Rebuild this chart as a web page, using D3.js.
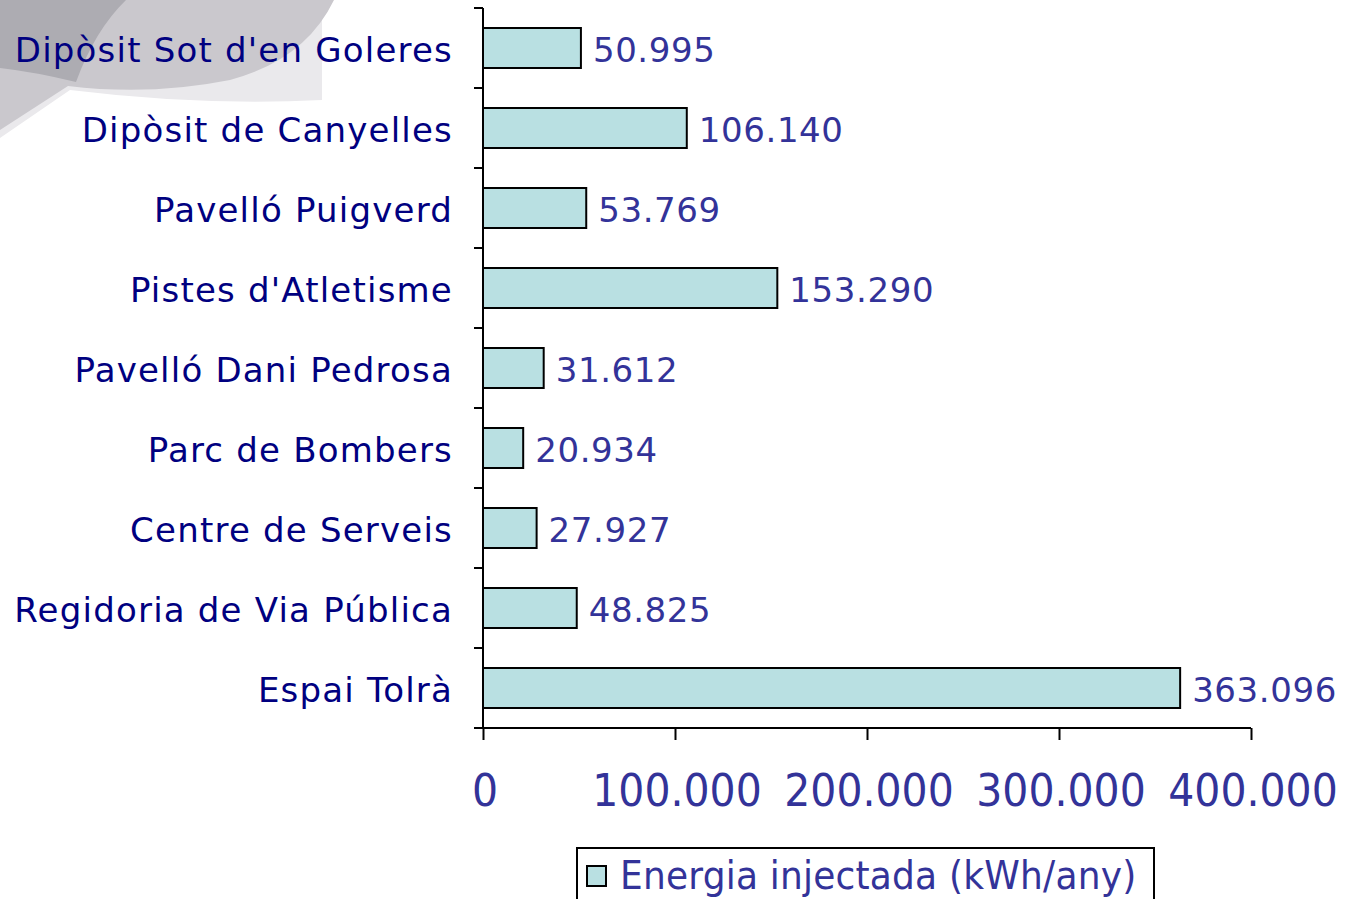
<!DOCTYPE html>
<html lang="ca">
<head>
<meta charset="UTF-8" />
<title>Energia injectada</title>
<script src="https://cdn.jsdelivr.net/npm/d3@7"></script>
<style>
  html, body { margin: 0; padding: 0; background: #fff; }
  svg { display: block; font-family: "DejaVu Sans", Verdana, sans-serif; }
</style>
</head>
<body>
<svg id="chart" width="1345" height="899"></svg>
<script>
// data
var categories = ["Dipòsit Sot d'en Goleres", "Dipòsit de Canyelles", "Pavelló Puigverd",
  "Pistes d'Atletisme", "Pavelló Dani Pedrosa", "Parc de Bombers", "Centre de Serveis",
  "Regidoria de Via Pública", "Espai Tolrà"];
var values = [50995, 106140, 53769, 153290, 31612, 20934, 27927, 48825, 363096];
var xTicks = [0, 100000, 200000, 300000, 400000];
var seriesName = "Energia injectada (kWh/any)";

var barFill = "#b9e0e2";
var navy = "#000080";
var blue = "#333399";

var loc = d3.formatLocale({decimal: ",", thousands: ".", grouping: [3], currency: ["", "€"]});
var fmt = loc.format(",d");

var svg = d3.select("#chart");

// decorative grey swoosh in the corner
var deco = svg.append("g");
deco.append("path")
  .attr("d", "M0,0 H322 V100 Q200,106 70,90 L0,138 Z")
  .attr("fill", "#eae9ec");
deco.append("path")
  .attr("d", "M0,0 H334 Q305,60 230,80 Q150,96 68,86 L0,130 Z")
  .attr("fill", "#cac8cd");
deco.append("path")
  .attr("d", "M0,0 H126 Q95,30 76,82 Q35,72 0,68 Z")
  .attr("fill", "#adacb2");

var x = d3.scaleLinear().domain([0, 400000]).range([483, 1251]);
var y = d3.scaleBand().domain(categories).range([8, 728]).paddingInner(0.5).paddingOuter(0.25);

// bars
svg.append("g").selectAll("rect")
  .data(values)
  .join("rect")
  .attr("x", x(0))
  .attr("y", function(d, i) { return y(categories[i]); })
  .attr("width", function(d) { return x(d) - x(0); })
  .attr("height", y.bandwidth())
  .attr("fill", barFill)
  .attr("stroke", "#000")
  .attr("stroke-width", 2);

// value labels
svg.append("g").selectAll("text")
  .data(values)
  .join("text")
  .attr("x", function(d) { return x(d) + 12; })
  .attr("y", function(d, i) { return y(categories[i]) + y.bandwidth() / 2 + 14; })
  .attr("fill", blue)
  .attr("font-size", 34)
  .attr("letter-spacing", 0.6)
  .text(function(d) { return fmt(d); });

// y axis (category ticks at band edges)
var yAxis = svg.append("g").attr("transform", "translate(" + x(0) + ",0)")
  .call(d3.axisLeft(y).tickSize(0).tickFormat(""));
yAxis.select(".domain").remove();
yAxis.append("line").attr("y1", 8).attr("y2", 728).attr("stroke", "#000").attr("stroke-width", 2);
var edges = d3.range(categories.length + 1).map(function(i) { return 8 + i * y.step(); });
yAxis.selectAll(".edge").data(edges).join("line")
  .attr("class", "edge")
  .attr("x1", -9).attr("x2", 0)
  .attr("y1", function(d) { return d; }).attr("y2", function(d) { return d; })
  .attr("stroke", "#000").attr("stroke-width", 2);

// category labels
svg.append("g").selectAll("text")
  .data(categories)
  .join("text")
  .attr("x", 453)
  .attr("y", function(d) { return y(d) + y.bandwidth() / 2 + 14; })
  .attr("text-anchor", "end")
  .attr("fill", navy)
  .attr("font-size", 34)
  .attr("letter-spacing", 1.2)
  .text(function(d) { return d; });

// x axis
var xAxis = svg.append("g").attr("transform", "translate(0,728)")
  .call(d3.axisBottom(x).tickValues(xTicks).tickSize(12).tickFormat(""));
xAxis.select(".domain").attr("stroke-width", 2).attr("d", "M" + x(0) + ",0H" + x(400000));
xAxis.selectAll(".tick line").attr("stroke-width", 2);

svg.append("g").selectAll("text")
  .data(xTicks)
  .join("text")
  .attr("transform", function(d) { return "translate(" + (x(d) + 2) + ",806) scale(1,1.08)"; })
  .attr("text-anchor", "middle")
  .attr("fill", blue)
  .attr("font-size", 41)
  .text(function(d) { return fmt(d); });

// legend
var legend = svg.append("g");
legend.append("rect")
  .attr("x", 577).attr("y", 848).attr("width", 577).attr("height", 80)
  .attr("fill", "#fff").attr("stroke", "#000").attr("stroke-width", 2);
legend.append("rect")
  .attr("x", 587).attr("y", 866).attr("width", 19).attr("height", 20)
  .attr("fill", barFill).attr("stroke", "#000").attr("stroke-width", 2);
legend.append("text")
  .attr("transform", "translate(620,889) scale(1,1.08)")
  .attr("fill", blue)
  .attr("font-size", 36)
  .attr("letter-spacing", 0.2)
  .text(seriesName);
</script>
</body>
</html>
